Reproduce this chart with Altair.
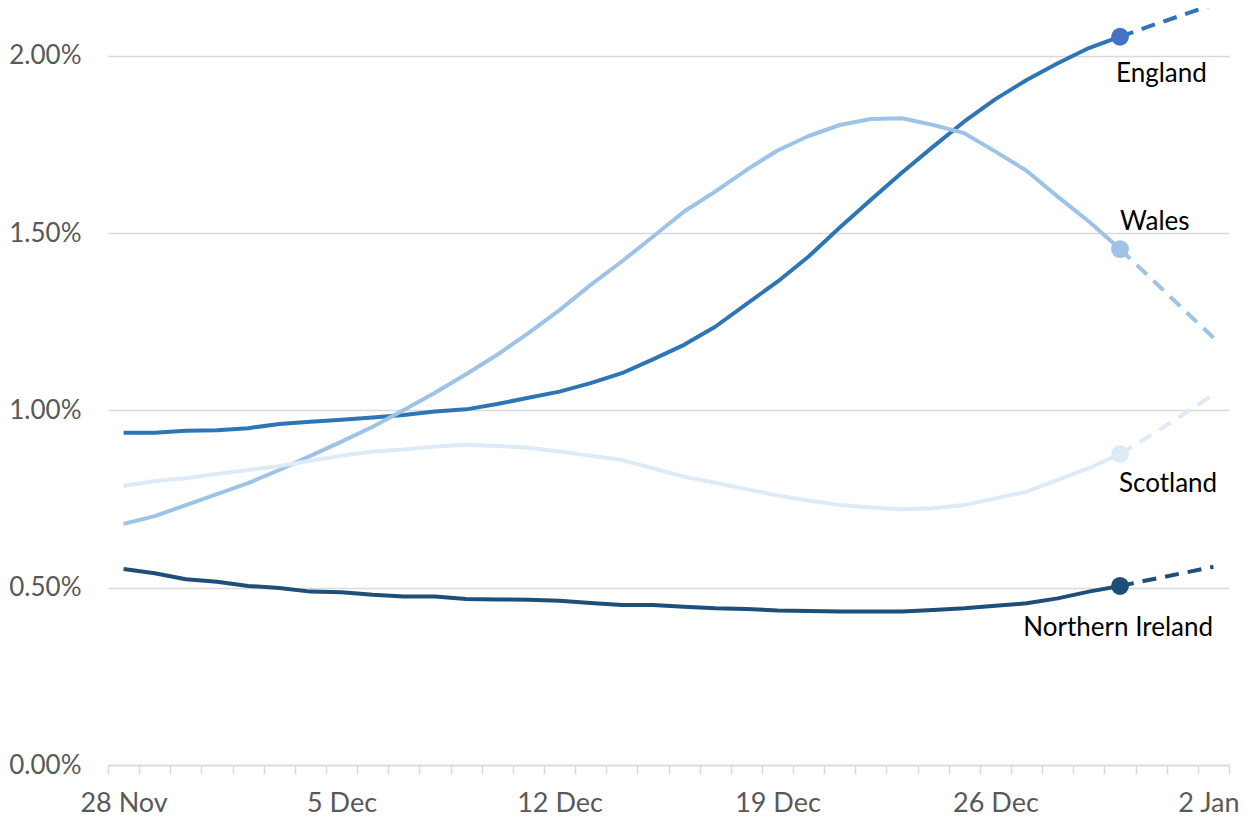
import altair as alt
import pandas as pd

# Category axis: one point per day, 28 Nov to 2 Jan
dates = [f"{d.day} {d.strftime('%b')}" for d in pd.date_range("2021-11-28", "2022-01-02", freq="D")]
tick_labels = ["28 Nov", "5 Dec", "12 Dec", "19 Dec", "26 Dec", "2 Jan"]

regions = ["England", "Wales", "Scotland", "Northern Ireland"]
line_colors = ["#2E75B6", "#9DC3E6", "#DEEBF7", "#1F4E79"]
marker_colors = ["#4472C4", "#9DC3E6", "#DEEBF7", "#1F4E79"]

# values in percent
england = [0.937, 0.937, 0.943, 0.944, 0.950, 0.962, 0.968, 0.974, 0.980, 0.987,
           0.997, 1.003, 1.018, 1.036, 1.053, 1.077, 1.105, 1.144, 1.185, 1.236,
           1.300, 1.363, 1.434, 1.516, 1.594, 1.671, 1.744, 1.815, 1.878, 1.932,
           1.979, 2.022, 2.054, 2.085, 2.115, 2.145]
wales = [0.680, 0.702, 0.733, 0.764, 0.795, 0.832, 0.872, 0.912, 0.954, 1.001,
         1.050, 1.102, 1.157, 1.218, 1.283, 1.354, 1.420, 1.490, 1.561, 1.617,
         1.678, 1.733, 1.774, 1.805, 1.822, 1.824, 1.805, 1.782, 1.730, 1.676,
         1.603, 1.533, 1.455, 1.372, 1.288, 1.205]
scotland = [0.787, 0.801, 0.809, 0.821, 0.832, 0.843, 0.858, 0.872, 0.884, 0.890,
            0.898, 0.903, 0.900, 0.895, 0.884, 0.872, 0.860, 0.837, 0.813, 0.796,
            0.778, 0.760, 0.746, 0.733, 0.726, 0.721, 0.724, 0.733, 0.752, 0.771,
            0.804, 0.837, 0.877, 0.931, 0.987, 1.045]
n_ireland = [0.553, 0.541, 0.524, 0.517, 0.505, 0.499, 0.489, 0.487, 0.480, 0.475,
             0.475, 0.468, 0.467, 0.466, 0.463, 0.457, 0.451, 0.451, 0.446, 0.442,
             0.440, 0.436, 0.434, 0.433, 0.433, 0.433, 0.437, 0.442, 0.449, 0.456,
             0.470, 0.489, 0.505, 0.523, 0.541, 0.559]

last_actual = dates.index("30 Dec")

series = dict(zip(regions, [england, wales, scotland, n_ireland]))
mcol = dict(zip(regions, marker_colors))
rows = []
for r, vals in series.items():
    for i, v in enumerate(vals):
        if i <= last_actual:
            rows.append({"region": r, "idx": i, "date": dates[i], "value": v / 100, "phase": "actual", "mcolor": mcol[r]})
        if i >= last_actual:
            rows.append({"region": r, "idx": i, "date": dates[i], "value": v / 100, "phase": "proj", "mcolor": mcol[r]})
df = pd.DataFrame(rows)

n = len(dates)
boundaries = [i - 0.5 for i in range(n + 1)]
centers = [dates.index(t) for t in tick_labels]
label_expr = " : ".join(f"datum.value === {dates.index(t)} ? '{t}'" for t in tick_labels) + " : ''"
last_label = dates.index(tick_labels[-1])

FONT = "Lato"
GREY = "#D9D9D9"

x_enc = alt.X(
    "idx:Q",
    scale=alt.Scale(domain=[-0.5, n - 0.5], nice=False, zero=False),
    axis=alt.Axis(
        values=boundaries + centers,
        labelExpr=label_expr,
        grid=False,
        domainColor=GREY,
        domainWidth=1.5,
        tickColor=GREY,
        tickWidth=1.5,
        tickSize=9,
        tickOpacity={"condition": {"test": "datum.value % 1 == 0", "value": 0}, "value": 1},
        labelOffset={"condition": {"test": f"datum.value === {last_label}", "value": -5}, "value": 0},
        labelFont=FONT,
        labelFontSize=27,
        labelColor="#595959",
        labelPadding=16,
        labelOverlap=False,
        labelFlush=False,
        labelBound=False,
        title=None,
    ),
)
y_enc = alt.Y(
    "value:Q",
    scale=alt.Scale(domain=[0, 0.02135], nice=False),
    axis=alt.Axis(
        values=[0, 0.005, 0.01, 0.015, 0.02],
        format=".2%",
        grid=True,
        gridColor=GREY,
        gridWidth=1.5,
        domain=False,
        ticks=False,
        tickSize=0,
        labelFont=FONT,
        labelFontSize=26,
        labelColor="#595959",
        labelPadding=27,
        title=None,
    ),
)
color_enc = alt.Color("region:N", scale=alt.Scale(domain=regions, range=line_colors), legend=None)

base = alt.Chart(df)

solid = base.transform_filter("datum.phase == 'actual'").mark_line(
    strokeWidth=4, strokeJoin="round"
).encode(x=x_enc, y=y_enc, color=color_enc)

dashed = base.transform_filter("datum.phase == 'proj'").mark_line(
    strokeWidth=4, strokeDash=[14, 9]
).encode(x=x_enc, y=y_enc, color=color_enc)

markers = base.transform_filter(
    f"datum.phase == 'actual' && datum.idx == {last_actual}"
).mark_circle(size=320, opacity=1).encode(
    x=x_enc, y=y_enc, color=alt.Color("mcolor:N", scale=None)
)

label_pos = {
    "England": dict(align="left", dx=-4, dy=37),
    "Wales": dict(align="left", dx=0, dy=-27),
    "Scotland": dict(align="left", dx=-1, dy=30),
    "Northern Ireland": dict(align="right", dx=93, dy=42),
}
texts = []
for r in regions:
    p = label_pos[r]
    texts.append(
        base.transform_filter(
            f"datum.phase == 'actual' && datum.idx == {last_actual} && datum.region == '{r}'"
        ).mark_text(
            font=FONT, fontSize=26, color="#000000", baseline="middle",
            align=p["align"], dx=p["dx"], dy=p["dy"]
        ).encode(x=x_enc, y=y_enc, text="region:N")
    )

chart = alt.layer(solid, dashed, markers, *texts).properties(
    width=1121,
    height=757,
    padding={"left": 100, "top": 0, "right": 12, "bottom": 56},
    autosize=alt.AutoSizeParams(type="none"),
).configure_view(strokeWidth=0)

chart.save("out.html", embed_options={"renderer": "svg", "actions": False})
